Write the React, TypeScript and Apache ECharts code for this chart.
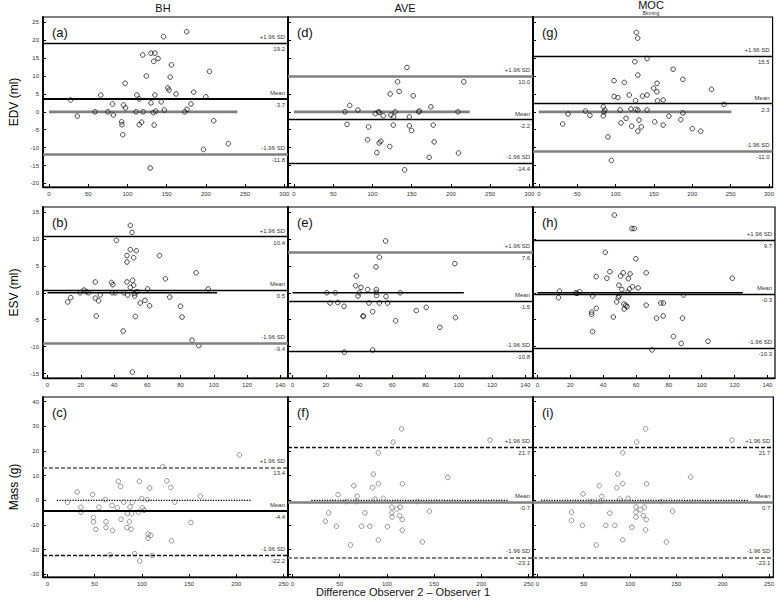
import React, { useEffect, useRef } from "react";
import * as echarts from "echarts";

const FONT = "'Liberation Sans', Arial, sans-serif";

const columnTitles = ["BH", "AVE", "MOC"];
const rowNames = ["EDV (ml)", "ESV (ml)", "Mass (g)"];
const panelLetters = [["(a)", "(d)", "(g)"], ["(b)", "(e)", "(h)"], ["(c)", "(f)", "(i)"]];
const xTitle = "Difference Observer 2 – Observer 1";

// tick values
const edvYTicks = [-20, -15, -10, -5, 0, 5, 10, 15, 20, 25];
const esvYTicks = [-15, -10, -5, 0, 5, 10, 15];
const massYTicks = [-30, -20, -10, 0, 10, 20, 30, 40];
const edvXTicks = [0, 50, 100, 150, 200, 250, 300];
const esvXTicks = [0, 20, 40, 60, 80, 100, 120, 140];
const massXTicks = [0, 50, 100, 150, 200, 250];

// EDV points [mean, difference]
const edvBH = [
  [27.4, 3.3], [36, -1.2], [58.6, 0], [66, 4.7], [75, 0], [81, 2.2], [82, -0.9], [92.5, -2.8], [93, -3.6],
  [94, -6.4], [95, 1.9], [97, 8.0], [97.5, 1.1], [111, 0], [112, 4.7], [115, 3.6], [115, -3.6], [118, -2.9],
  [119.5, 15.9], [120, 0], [124, 10.0], [129, -15.7], [130, 16.4], [130, 2.5], [133, -0.2], [133.5, 14.1],
  [134, -3.7], [135, 16.4], [135, 4.7], [136, 0.2], [139, 14.9], [143, 2.8], [146, 21.0], [147, 0.5],
  [151.5, 6.7], [153, 6.1], [154.5, 9.7], [156, 13.1], [162, 5.0], [173, 0], [175.5, 22.4], [176, 0.7],
  [181, 2.2], [184.5, 5.5], [197, -10.5], [200, 4.2], [204.6, 11.3], [210, -2.5], [228.6, -8.9],
];
const edvAVE = [
  [65, 0], [67.5, -3.5], [71, 1.8], [81.5, 0.5], [95, -4.2], [93.8, -7.8], [103.5, -0.5], [107.7, 0],
  [108.6, -0.2], [105.6, -11.4], [108.6, -8.7], [110.7, -8.2], [113.7, -1.1], [122, -9.7], [122.6, 5.0],
  [123.5, -0.9], [126.5, -3.7], [127, -1.4], [129, 0], [132, 8.4], [134, 5.7], [141, -16.2], [144, 12.4],
  [147, -1.4], [147, -3.9], [150, -5.2], [152, 4.5], [158.8, 0], [160, 0.2], [172.3, -12.7], [174.5, 1.4],
  [177.5, -3.7], [178.7, -8.4], [209, 0], [209.7, -11.5], [216.5, 8.4],
];
const edvMOC = [
  [31, -3.4], [38, -0.6], [60.6, 0.2], [66.5, -1.0], [84, 1.4], [84.7, -0.1], [84, -1.1], [86, 0.5],
  [90, -7.0], [94.5, -13.6], [98, 8.7], [98, 4.3], [103, 4.0], [106, 0.5], [107, -3.1], [111.4, 8.2],
  [113.6, -1.8], [117.8, 4.7], [120, 0.8], [121, -4.0], [125, 14.0], [126, 3.1], [126.3, 0.7], [127, 22.2],
  [128.8, 20.6], [129, 10.3], [129, 0.5], [129, -5.4], [130.5, -2.3], [133.5, -4.2], [135, 4.4], [141, 14.9],
  [141, 4.7], [141, 0.5], [149.6, 6.6], [151, -2.8], [153.8, 5.6], [154, 8.0], [154.7, 3.1], [162, 3.3],
  [162, -3.7], [169.5, -1.2], [175, 11.9], [185, -2.2], [187.7, -0.3], [187.7, 9.1], [200, -4.7],
  [211, -5.4], [225, 6.3], [241.5, 2.1],
];

// ESV points
const esvBH = [
  [12.2, -1.7], [14, -0.9], [19.7, 0], [22, 0.5], [23.3, 0.2], [24.7, 0], [28.7, 2.0], [28.7, -1.0],
  [29.3, -4.3], [30.7, -1.5], [31.7, -0.4], [38.5, 1.9], [39.3, 1.5], [39, 0], [40.8, 0], [41.4, 9.7],
  [45.5, -7.1], [45.8, 0], [47.8, 6.9], [47.8, 5.7], [47.8, 2.0], [48.2, -0.4], [49.8, 12.5], [49.8, 8.0],
  [49.8, 1.0], [50.8, 11.2], [51, -14.7], [51.2, 2.3], [51.8, 6.5], [51.8, 1.4], [52.2, -0.1], [52.4, -0.6],
  [52.8, -4.4], [53.4, 7.8], [53.8, 0.2], [55.8, -1.9], [58.6, -1.4], [60.2, 0.7], [61.4, -2.4], [67.3, 6.9],
  [70.9, 2.6], [73.5, -0.8], [79.9, -2.5], [80.9, -4.5], [86.9, -8.8], [89.4, 3.7], [91, -9.8], [96.6, 0.7],
];
const esvAVE = [
  [20.6, 0], [22.6, -1.9], [25.8, 0], [27.2, -1.8], [31, -2.5], [31.2, -11.0], [38, 1.3], [38.4, 3.1],
  [39.4, -0.6], [40.2, 0], [41.2, 1.0], [42.4, -4.3], [42.6, -4.4], [45.2, 0.6], [46, -1.9], [48.2, -3.5],
  [48.2, -10.6], [50.2, 4.8], [50.4, 0.6], [50.4, 0.1], [50.6, -0.5], [52.2, 6.6], [52.2, -1.9], [56, 9.6],
  [56.2, -0.7], [57.2, -1.9], [64.8, 0], [62, -5.2], [74.4, -3.3], [79.2, -15.9], [80.4, -2.7], [88.6, -6.4],
  [97.6, 5.4], [98, -4.6],
];
const esvMOC = [
  [12.8, -0.9], [13.4, 0.3], [23.3, 0], [24.1, -0.1], [25.7, 0.2], [33, -3.6], [33, -4.0], [33.6, -0.6],
  [33.6, -7.2], [35.8, -2.9], [35.8, 3.0], [41.3, 7.5], [42.3, 2.7], [44.1, 3.9], [46.2, -4.5], [46.8, 14.4],
  [48.2, -1.7], [49.2, -0.9], [49.6, 1.4], [49.6, -0.6], [50.6, 3.1], [51.4, 0.6], [52.2, 3.7], [52.6, -2.1],
  [52.8, -3.0], [53.8, -2.3], [54.5, -2.6], [55, 0.1], [55.3, 2.6], [56, 0.7], [56.4, 3.5], [57.5, 11.9],
  [58.9, 11.9], [57.9, 1.1], [59.9, 6.3], [61.3, 0.9], [66.2, 3.7], [66.2, -2.3], [69.8, -10.6], [72.5, -4.7],
  [75.1, -1.9], [76.5, -4.3], [76.7, -1.9], [82.8, -8.1], [87.5, -9.4], [88.3, -4.7], [88.9, -0.4],
  [103.8, -9.0], [118.6, 2.7],
];

// Mass points
const massBH = [
  [21.2, -0.8], [31.5, 3.4], [35.4, -2.8], [35.4, -4.8], [47.8, 2.4], [48.8, -7.0], [48.8, -8.7], [51.3, -11.8],
  [54.5, -2.8], [61.2, 0.3], [62, -8.7], [62, -11.0], [68.3, -2.1], [66.2, -22.1], [69, -12.2], [74, -3.0],
  [75, 7.7], [77.5, 5.6], [77.9, -7.7], [80.7, -0.7], [84.6, -5.4], [84.2, -11.1], [87.4, -2.7], [86.7, -8.7],
  [88.5, -11.7], [89.2, -5.4], [89.9, -0.9], [92.4, -21.6], [96.3, -4.8], [97.3, 7.7], [97.7, -24.6],
  [99.8, 0.7], [100.5, -3.0], [102.3, -4.0], [105.8, 0.3], [106.5, -13.7], [106.5, -15.4], [109.4, -14.2],
  [108.3, 5.0], [110.8, -22.4], [122, 13.7], [126.4, 7.9], [130.6, 5.2], [131.3, -16.4], [134.9, -0.7],
  [151.9, -9.0], [161.8, 1.7], [203.2, 18.4],
];
const massAVE = [
  [34.8, -8.5], [38.4, -5.1], [46.5, -10.5], [48.3, 2.3], [57.2, -0.5], [61.5, -18.1], [65, 5.9], [68.6, 1.6],
  [67.5, -0.5], [73.2, -10.5], [76.7, -5.1], [82, -10.5], [84.9, 5.1], [85.6, 10.6], [87.4, 0.5], [91, 6.7],
  [91, 19.3], [91, -16.1], [96.3, 0.8], [100.5, -10.7], [105.2, -2.8], [105.2, -5.1], [105.5, -6.8],
  [106.6, 23.6], [110.5, -3.5], [114, -2.8], [113.3, -6.2], [115.5, 29.0], [116.2, -7.8], [116.2, -12.1],
  [116.5, 6.7], [132.2, -0.5], [137.5, -16.9], [145, -4.4], [164.5, 9.3], [209.2, 24.4],
];
const massMOC = [
  [36.8, -4.8], [36.8, -8.2], [48.6, -10.2], [49.3, 2.6], [58.2, -0.5], [63.6, -18.1], [66.8, 5.9], [69.6, 1.6],
  [67.9, -0.5], [73.9, -10.2], [78.2, -5.2], [83.6, -10.2], [85.7, 5.1], [86.8, 10.7], [88.9, 0.5], [92.1, 6.8],
  [92.1, 19.3], [92.1, -16.0], [97.9, 0.8], [102.1, -10.9], [106.4, -2.7], [106.4, -4.8], [106.4, -6.8],
  [107.1, 23.6], [111.4, -3.8], [115.4, -2.8], [114.3, -6.2], [116.8, 29.0], [117.5, -7.8], [116.8, -12.0],
  [117.9, 6.7], [133.9, -0.5], [139.3, -16.9], [146, -4.4], [165.4, 9.4], [210, 24.4],
];

// limits of agreement and mean bias
const edvUpper = [19.2, 10.0, 15.5];
const edvMean = [3.7, -2.2, 2.3];
const edvLower = [-11.8, -14.4, -11.0];
const esvUpper = [10.4, 7.6, 9.7];
const esvMean = [0.5, -1.5, -0.3];
const esvLower = [-9.4, -10.8, -10.3];
const massUpper = [13.4, 21.7, 21.7];
const massMean = [-4.4, -0.7, -0.7];
const massLower = [-22.2, -23.1, -23.1];
const massMeanLabels = ["-4.4", "-0.7", "0.7"];

// extent of the zero reference line [from, to]
const edvZero = [[0, 240], [0, 224], [0, 251]];
const esvZero = [[0, 102], [0, 103], [0, 125]];
const massZero = [[10, 215], [20, 228], [4, 228]];

const rowPoints = [[edvBH, edvAVE, edvMOC], [esvBH, esvAVE, esvMOC], [massBH, massAVE, massMOC]];
const rowUpper = [edvUpper, esvUpper, massUpper];
const rowMean = [edvMean, esvMean, massMean];
const rowLower = [edvLower, esvLower, massLower];
const rowZero = [edvZero, esvZero, massZero];
const rowYTicks = [edvYTicks, esvYTicks, massYTicks];
const rowXTicks = [edvXTicks, esvXTicks, massXTicks];

// layout
const gridLeft = [43, 288, 533];
const gridWidth = [245, 245, 242];
const gridTop = [17, 207, 397];
const gridHeight = [170, 171, 180];
const xRange = [[-7.7, 304.7], [-2.7, 144.6], [-4.7, 254.7]];
const yRange = [[-21, 26.5], [-15.8, 15.9], [-31.1, 41.9]];

const BLACK = { color: "#000", width: 1.3, type: "solid" };
const BLACK_THICK = { color: "#000", width: 2, type: "solid" };
const GRAY = { color: "#808080", width: 2.6, type: "solid" };
const DASH_BLACK = { color: "#111", width: 1.3, type: [4, 2] };
const DASH_GRAY = { color: "#808080", width: 2.2, type: [4, 2] };
const DOT = { color: "#000", width: 1.3, type: [1.3, 1.3] };
const HIDDEN = { color: "rgba(0,0,0,0)", width: 1, type: "solid" };

const lineStyles = [
  [
    { up: BLACK, mean: BLACK_THICK, low: GRAY, zero: GRAY },
    { up: GRAY, mean: BLACK, low: BLACK, zero: GRAY },
    { up: BLACK, mean: BLACK, low: GRAY, zero: GRAY },
  ],
  [
    { up: BLACK, mean: BLACK, low: GRAY, zero: BLACK },
    { up: GRAY, mean: BLACK, low: BLACK, zero: BLACK },
    { up: BLACK, mean: BLACK, low: BLACK, zero: BLACK },
  ],
  [
    { up: DASH_GRAY, mean: BLACK_THICK, low: DASH_BLACK, zero: DOT },
    { up: DASH_BLACK, mean: GRAY, low: DASH_GRAY, zero: DOT },
    { up: DASH_BLACK, mean: GRAY, low: DASH_GRAY, zero: DOT },
  ],
];

function buildOption() {
  const grid: any[] = [];
  const xAxis: any[] = [];
  const yAxis: any[] = [];
  const series: any[] = [];
  const graphic: any[] = [];

  const labelBase = { show: true, fontSize: 6, color: "#333", fontFamily: FONT, distance: 3 };

  for (let r = 0; r < 3; r++) {
    for (let c = 0; c < 3; c++) {
      const idx = r * 3 + c;
      grid.push({
        left: gridLeft[c],
        top: gridTop[r],
        width: gridWidth[c],
        height: gridHeight[r],
        show: true,
        borderColor: "#000",
        borderWidth: 1.2,
        backgroundColor: "transparent",
      });
      xAxis.push({
        type: "value",
        gridIndex: idx,
        min: xRange[r][0],
        max: xRange[r][1],
        axisLine: { show: true, onZero: false, lineStyle: { color: "#000", width: 1.4 } },
        axisTick: { show: true, inside: true, length: 3, customValues: rowXTicks[r], lineStyle: { color: "#000" } },
        axisLabel: { show: true, customValues: rowXTicks[r], fontSize: 6, color: "#333", margin: 4, fontFamily: FONT },
        splitLine: { show: false },
      });
      yAxis.push({
        type: "value",
        gridIndex: idx,
        min: yRange[r][0],
        max: yRange[r][1],
        name: c === 0 ? rowNames[r] : "",
        nameLocation: "middle",
        nameGap: 23,
        nameTextStyle: { fontSize: 12, color: "#000", fontFamily: FONT },
        axisLine: { show: true, onZero: false, lineStyle: { color: "#000", width: 1.8 } },
        axisTick: { show: true, inside: true, length: 3, customValues: rowYTicks[r], lineStyle: { color: "#000" } },
        axisLabel: { show: c === 0, customValues: rowYTicks[r], fontSize: 6, color: "#333", margin: 4, fontFamily: FONT },
        splitLine: { show: false },
      });

      const st = lineStyles[r][c];
      const up = rowUpper[r][c];
      const mean = rowMean[r][c];
      const low = rowLower[r][c];
      const meanText = r === 2 ? massMeanLabels[c] : mean.toFixed(1);

      series.push({
        type: "scatter",
        xAxisIndex: idx,
        yAxisIndex: idx,
        data: rowPoints[r][c],
        symbol: "circle",
        symbolSize: 4.6,
        itemStyle: {
          color: "rgba(255,255,255,0)",
          borderColor: r === 2 ? "#7a7a7a" : "#1a1a1a",
          borderWidth: 1,
        },
        z: 4,
        markLine: {
          silent: true,
          symbol: ["none", "none"],
          animation: false,
          data: [
            { yAxis: up, lineStyle: st.up, label: { ...labelBase, position: "insideEndTop", formatter: "+1.96 SD" } },
            { yAxis: up, lineStyle: HIDDEN, label: { ...labelBase, position: "insideEndBottom", formatter: up.toFixed(1) } },
            { yAxis: mean, lineStyle: st.mean, label: { ...labelBase, position: "insideEndTop", formatter: "Mean" } },
            { yAxis: mean, lineStyle: HIDDEN, label: { ...labelBase, position: "insideEndBottom", formatter: meanText } },
            { yAxis: low, lineStyle: st.low, label: { ...labelBase, position: "insideEndTop", formatter: "-1.96 SD" } },
            { yAxis: low, lineStyle: HIDDEN, label: { ...labelBase, position: "insideEndBottom", formatter: low.toFixed(1) } },
          ],
        },
      });

      const z = rowZero[r][c];
      series.push({
        type: "line",
        xAxisIndex: idx,
        yAxisIndex: idx,
        data: [[z[0], 0], [z[1], 0]],
        symbol: "none",
        silent: true,
        lineStyle: st.zero,
        z: 3,
      });

      graphic.push({
        type: "text",
        x: gridLeft[c] + 9,
        y: gridTop[r] + 9,
        style: { text: panelLetters[r][c], fontSize: 13, fontFamily: FONT, fill: "#111" },
      });
    }
  }

  const titleX = [163, 405, 651];
  columnTitles.forEach((t, i) => {
    graphic.push({
      type: "text",
      x: titleX[i],
      y: i === 2 ? 5 : 8,
      style: {
        text: t,
        fontSize: 11,
        fontFamily: FONT,
        fill: "#111",
        align: "center",
        verticalAlign: "middle",
        textAlign: "center",
        textVerticalAlign: "middle",
      },
    });
  });
  graphic.push({
    type: "text",
    x: 651,
    y: 13,
    style: {
      text: "Binning",
      fontSize: 5,
      fontFamily: FONT,
      fill: "#333",
      align: "center",
      verticalAlign: "middle",
      textAlign: "center",
      textVerticalAlign: "middle",
    },
  });
  graphic.push({
    type: "text",
    x: 403,
    y: 592,
    style: {
      text: xTitle,
      fontSize: 11,
      fontFamily: FONT,
      fill: "#111",
      align: "center",
      verticalAlign: "middle",
      textAlign: "center",
      textVerticalAlign: "middle",
    },
  });

  return {
    animation: false,
    backgroundColor: "#fff",
    textStyle: { fontFamily: FONT },
    grid,
    xAxis,
    yAxis,
    series,
    graphic,
  };
}

export default function App() {
  const ref = useRef<HTMLDivElement>(null);
  useEffect(() => {
    if (!ref.current) return;
    const chart = echarts.init(ref.current, undefined, { renderer: "svg" });
    chart.setOption(buildOption() as any);
    return () => chart.dispose();
  }, []);
  return (
    <div
      ref={ref}
      style={{ position: "absolute", left: 0, top: 0, width: 777, height: 601, background: "#fff" }}
    />
  );
}
